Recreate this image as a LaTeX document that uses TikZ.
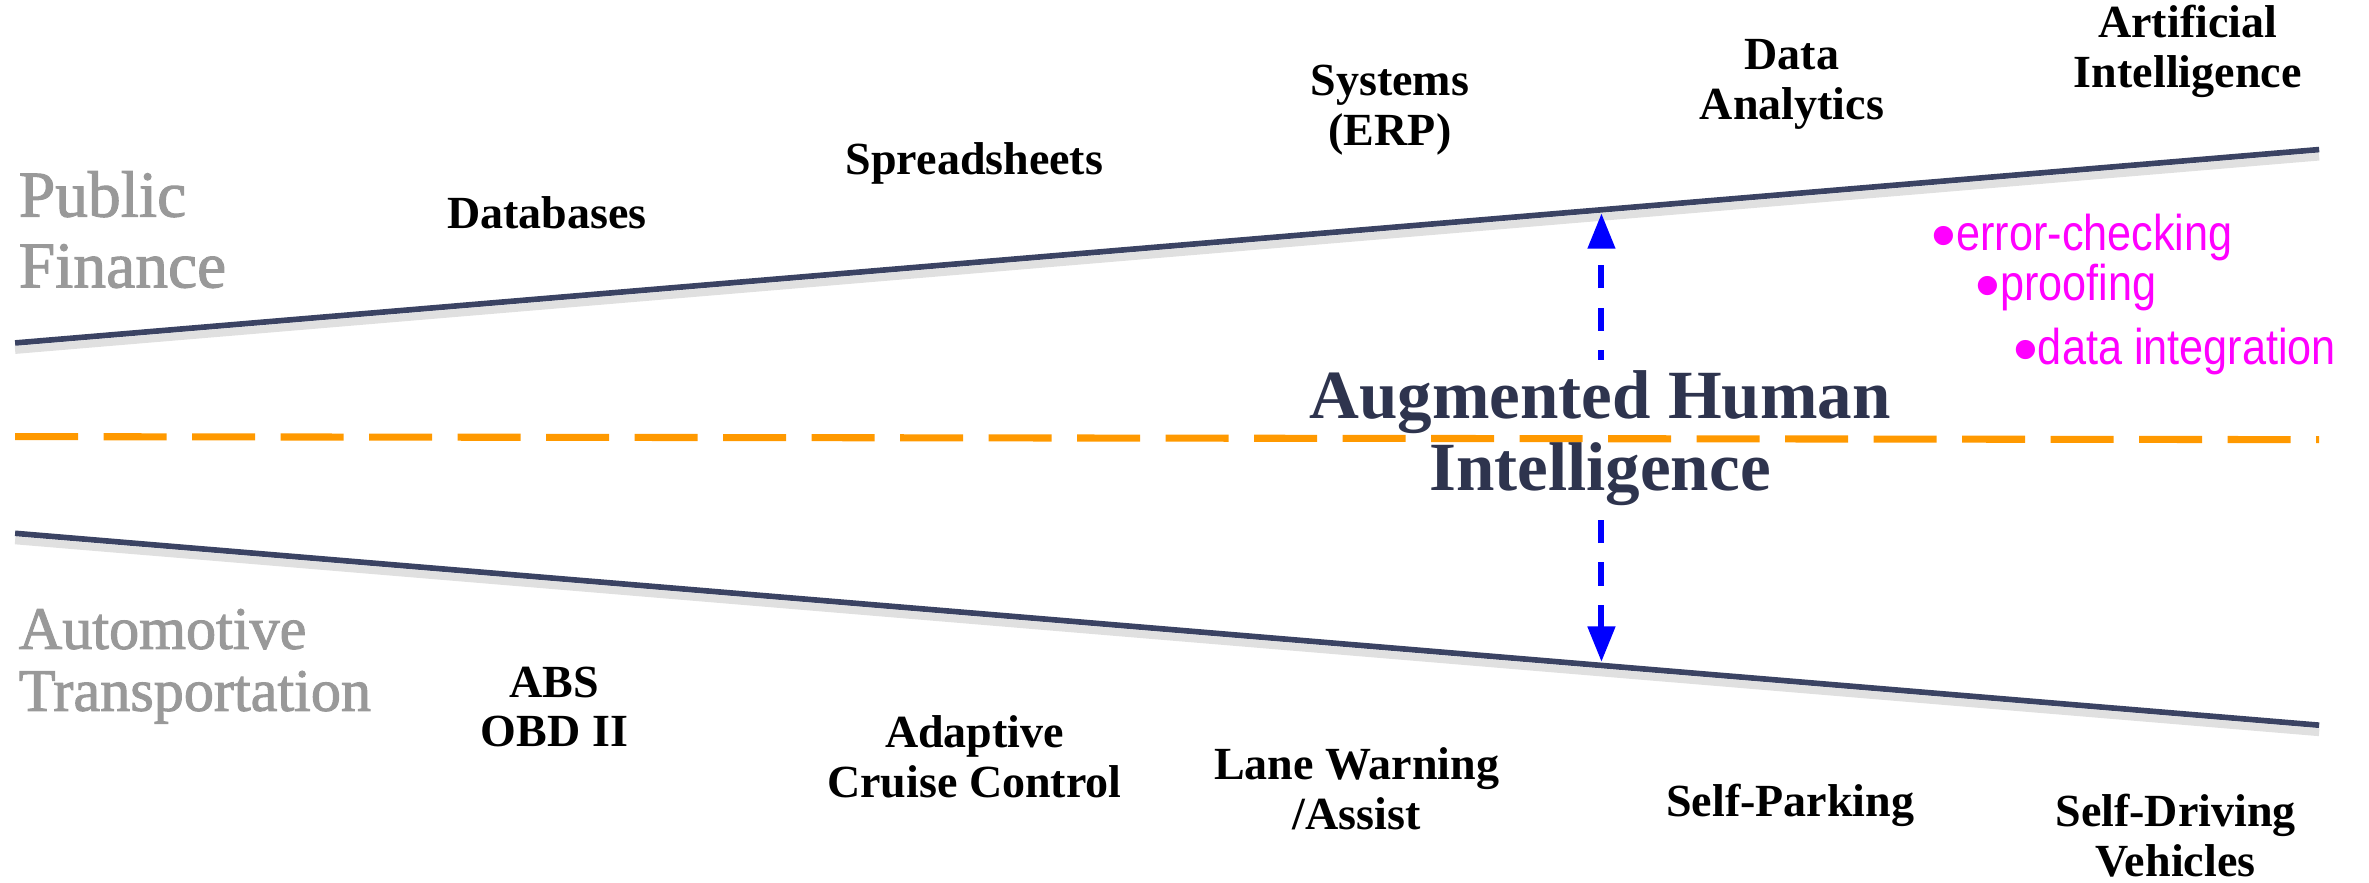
\documentclass[tikz,border=0pt]{standalone}
\usepackage{fontspec}
\setmainfont{Liberation Serif}
\newfontfamily\sidefont[FakeBold=1.6]{Liberation Serif}
\newfontfamily\bulfont[FakeStretch=0.86]{Liberation Sans}
\newfontfamily\dotfont{Liberation Sans}
\usepackage{tikz}
\usetikzlibrary{arrows.meta,calc}
\definecolor{navy}{RGB}{59,67,99}
\definecolor{ahinavy}{RGB}{46,52,78}
\definecolor{dashorange}{RGB}{255,153,0}
\definecolor{pinkish}{RGB}{255,0,255}
\definecolor{sidegray}{RGB}{153,153,153}
\newcommand{\bigdot}{\raisebox{-2.6pt}{\dotfont\fontsize{20}{20}\selectfont •}}

\begin{document}
\begin{tikzpicture}[x=0.015cm, y=-0.015cm,
    lbl/.style={font=\bfseries\fontsize{13}{14}\selectfont, align=center, inner sep=0pt},
    side/.style={text=sidegray, align=left, anchor=west, inner sep=0pt},
    bul/.style={font=\bulfont\fontsize{14.2}{16}\selectfont, text=pinkish, anchor=base west, inner sep=0pt},
    bound/.style={draw=navy, line width=1.6pt},
    shade/.style={draw=black!12, line width=2.2pt}]

    \useasboundingbox (0,0) rectangle (1568,584);

    \coordinate (tl) at (10,227);
    \coordinate (tr) at (1535,99);
    \coordinate (bl) at (10,353);
    \coordinate (br) at (1535,480);
    \coordinate (ol) at (10,289);
    \coordinate (or) at (1535,291);
    \coordinate (au) at ($(tl)!0.6885!(tr)$);
    \coordinate (ad) at ($(bl)!0.6885!(br)$);

    \draw [shade] ([yshift=-2pt]tl) -- ([yshift=-2pt]tr);
    \draw [shade] ([yshift=-2pt]bl) -- ([yshift=-2pt]br);
    \draw [bound] (tl) -- (tr);
    \draw [bound] (bl) -- (br);

    \draw [blue, line width=1.7pt, dash pattern=on 6.5pt off 5.5pt, {Triangle[length=10pt, width=7.5pt]}-{Triangle[length=10pt, width=7.5pt]}, shorten <=1pt, shorten >=1pt] (ad) to (au);

    \node [fill=white, inner sep=3pt, align=center, text=ahinavy, font=\bfseries\fontsize{19.5}{20.5}\selectfont] (ahi) at (1059,290) {Augmented Human\\Intelligence};

    \draw [dashorange, line width=2pt, dash pattern=on 17.8pt off 7.2pt] (ol) to (or);

    \node [side, font=\sidefont\fontsize{18.5}{20}\selectfont] (pf) at (12,152) {Public\\Finance};
    \node [side, font=\sidefont\fontsize{17}{17.5}\selectfont] (at) at (12,441) {Automotive\\Transportation};

    \node [lbl] (db) at (362,141) {Databases};
    \node [lbl] (ss) at (645,108) {Spreadsheets};
    \node [lbl] (erp) at (920,73) {Systems\\(ERP)};
    \node [lbl] (da) at (1186,56) {Data\\Analytics};
    \node [lbl] (ai) at (1448,34) {Artificial\\Intelligence};

    \node [lbl] (abs) at (367,468) {ABS\\OBD II};
    \node [lbl] (acc) at (645,501) {Adaptive\\Cruise Control};
    \node [lbl] (lw) at (898,522) {Lane Warning\\/Assist};
    \node [lbl] (sp) at (1185,533) {Self-Parking};
    \node [lbl] (sd) at (1440,553) {Self-Driving\\Vehicles};

    \node [bul] (ec) at (1278,166) {\bigdot error-checking};
    \node [bul] (pr) at (1307,199) {\bigdot proofing};
    \node [bul] (di) at (1332,241) {\bigdot data integration};

\end{tikzpicture}
\end{document}
